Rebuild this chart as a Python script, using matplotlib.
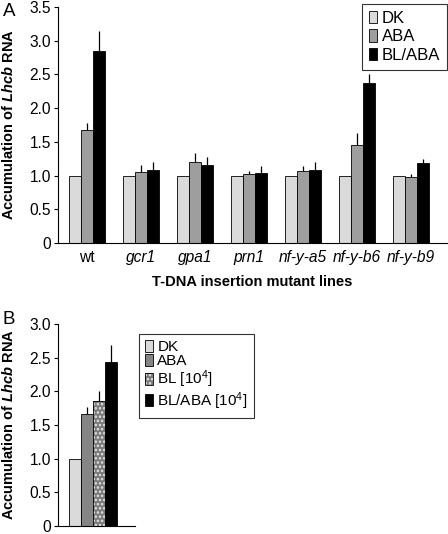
import matplotlib
matplotlib.use("Agg")
import matplotlib.pyplot as plt
from matplotlib.patches import Patch
from matplotlib.legend_handler import HandlerTuple
import numpy as np

plt.rcParams['font.family'] = ['Liberation Sans', 'DejaVu Sans']
plt.rcParams['hatch.linewidth'] = 1.2
plt.rcParams['mathtext.fontset'] = 'custom'
plt.rcParams['mathtext.rm'] = 'Liberation Sans'
plt.rcParams['mathtext.it'] = 'Liberation Sans:italic'
plt.rcParams['mathtext.bf'] = 'Liberation Sans:bold'
plt.rcParams['mathtext.bfit'] = 'Liberation Sans:bold:italic'

# Panel A data
lines_a = ["wt", "gcr1", "gpa1", "prn1", "nf-y-a5", "nf-y-b6", "nf-y-b9"]
dk_a = [1.0, 1.0, 1.0, 1.0, 1.0, 1.0, 1.0]
aba_a = [1.67, 1.06, 1.20, 1.02, 1.07, 1.46, 0.98]
aba_a_err = [0.11, 0.10, 0.14, 0.05, 0.07, 0.17, 0.05]
blaba_a = [2.85, 1.09, 1.16, 1.04, 1.08, 2.38, 1.18]
blaba_a_err = [0.30, 0.11, 0.11, 0.10, 0.12, 0.13, 0.07]
series_a = ["DK", "ABA", "BL/ABA"]

# Panel B data
series_b = ["DK", "ABA", r"BL [10$^{\mathrm{4}}$]", r"BL/ABA [10$^{\mathrm{4}}$]"]
vals_b = [1.0, 1.66, 1.85, 2.43]
errs_b = [0.0, 0.11, 0.16, 0.26]

c_dk = '#dadada'
c_aba = '#9e9e9e'
c_aba_b = '#858585'
c_bl = '#7a7a7a'
c_blk = '#000000'

TICK_FS = 11.2
LAB_FS = 10.5

fig = plt.figure(figsize=(4.48, 5.34), dpi=100)

# ---------------- Panel A ----------------
axA = fig.add_axes([58/448, 1-243/534, 389/448, 236/534])
x = np.arange(len(lines_a))
w = 0.222
kw = dict(edgecolor='black', linewidth=0.6, zorder=2)
axA.bar(x - w, dk_a, w, color=c_dk, label=series_a[0], **kw)
axA.bar(x, aba_a, w, color=c_aba, label=series_a[1], **kw)
axA.bar(x + w, blaba_a, w, color=c_blk, label=series_a[2], **kw)
axA.errorbar(x, aba_a, yerr=[np.zeros(len(x)), aba_a_err], fmt='none',
             ecolor='black', elinewidth=0.9, capsize=0, zorder=1)
axA.errorbar(x + w, blaba_a, yerr=[np.zeros(len(x)), blaba_a_err], fmt='none',
             ecolor='black', elinewidth=0.9, capsize=0, zorder=1)
axA.set_xlim(-0.543, 6.67)
axA.set_ylim(0, 3.5)
axA.set_yticks(np.arange(0, 3.51, 0.5))
axA.set_yticklabels(['0', '0.5', '1.0', '1.5', '2.0', '2.5', '3.0', '3.5'])
axA.set_xticks(x)
xt = axA.set_xticklabels(lines_a, fontsize=TICK_FS)
for t in xt[1:]:
    t.set_style('italic')
axA.tick_params(axis='x', length=0, pad=5)
axA.tick_params(axis='y', direction='out', length=3, width=0.8, labelsize=TICK_FS, pad=2)
for s in ['top', 'right']:
    axA.spines[s].set_visible(False)
for s in ['left', 'bottom']:
    axA.spines[s].set_linewidth(0.8)
axA.set_ylabel(r'Accumulation of $\mathbfit{Lhcb}$ RNA', fontsize=LAB_FS,
               fontweight='bold')
axA.yaxis.set_label_coords((16-58)/389, 0.5)
axA.set_xlabel('T-DNA insertion mutant lines', fontsize=LAB_FS,
               fontweight='bold', labelpad=7)
legA = axA.legend(loc='upper right', bbox_to_anchor=(1.0, 1 + 3/236), fontsize=12,
                  frameon=True, fancybox=False, edgecolor='black',
                  handlelength=0.5, handleheight=0.8, handletextpad=0.3,
                  borderpad=0.4, labelspacing=0.2, borderaxespad=0.0)
legA.get_frame().set_linewidth(0.8)
fig.text(3/448, 1-12/534, 'A', fontsize=13.5, va='center', ha='left')

# ---------------- Panel B ----------------
axB = fig.add_axes([58/448, 1-526/534, 77/448, 202/534])
xb = np.arange(len(vals_b)) - 1.5
colors_b = [c_dk, c_aba_b, c_bl, c_blk]
for i in range(len(vals_b)):
    if i == 2:
        axB.bar(xb[i], vals_b[i], 1.0, color=colors_b[i], edgecolor='#e6e6e6',
                hatch='....', linewidth=0, zorder=2)
        axB.bar(xb[i], vals_b[i], 1.0, fill=False, edgecolor='black',
                linewidth=0.6, zorder=3)
    else:
        axB.bar(xb[i], vals_b[i], 1.0, color=colors_b[i], edgecolor='black',
                linewidth=0.6, zorder=2)
eidx = [1, 2, 3]
axB.errorbar(xb[eidx], [vals_b[i] for i in eidx],
             yerr=[np.zeros(3), [errs_b[i] for i in eidx]], fmt='none',
             ecolor='black', elinewidth=0.9, capsize=0, zorder=1)
axB.set_xlim(-2.92, 3.5)
axB.set_ylim(0, 3.0)
axB.set_yticks(np.arange(0, 3.01, 0.5))
axB.set_yticklabels(['0', '0.5', '1.0', '1.5', '2.0', '2.5', '3.0'])
axB.set_xticks([])
axB.tick_params(axis='y', direction='out', length=3, width=0.8, labelsize=TICK_FS, pad=2)
for s in ['top', 'right']:
    axB.spines[s].set_visible(False)
for s in ['left', 'bottom']:
    axB.spines[s].set_linewidth(0.8)
axB.set_ylabel(r'Accumulation of $\mathbfit{Lhcb}$ RNA', fontsize=LAB_FS,
               fontweight='bold')
axB.yaxis.set_label_coords((16-58)/77, 0.5)

h_dk = Patch(facecolor=c_dk, edgecolor='black', linewidth=0.6)
h_aba = Patch(facecolor=c_aba_b, edgecolor='black', linewidth=0.6)
h_bl1 = Patch(facecolor=c_bl, edgecolor='#e6e6e6', hatch='....', linewidth=0)
h_bl2 = Patch(fill=False, edgecolor='black', linewidth=0.6)
h_blk = Patch(facecolor=c_blk, edgecolor='black', linewidth=0.6)
legB = fig.legend([h_dk, h_aba, (h_bl1, h_bl2), h_blk], series_b,
                  loc='upper left', bbox_to_anchor=(139/448, 1-334/534),
                  fontsize=11, frameon=True, fancybox=False, edgecolor='black',
                  handlelength=0.5, handleheight=0.8, handletextpad=0.3,
                  borderpad=0.4, labelspacing=0.0, borderaxespad=0,
                  handler_map={tuple: HandlerTuple(ndivide=1, pad=0)})
legB.get_frame().set_linewidth(0.8)
fig.text(2/448, 1-320/534, 'B', fontsize=13.5, va='center', ha='left')

fig.savefig('out.png', dpi=100)
